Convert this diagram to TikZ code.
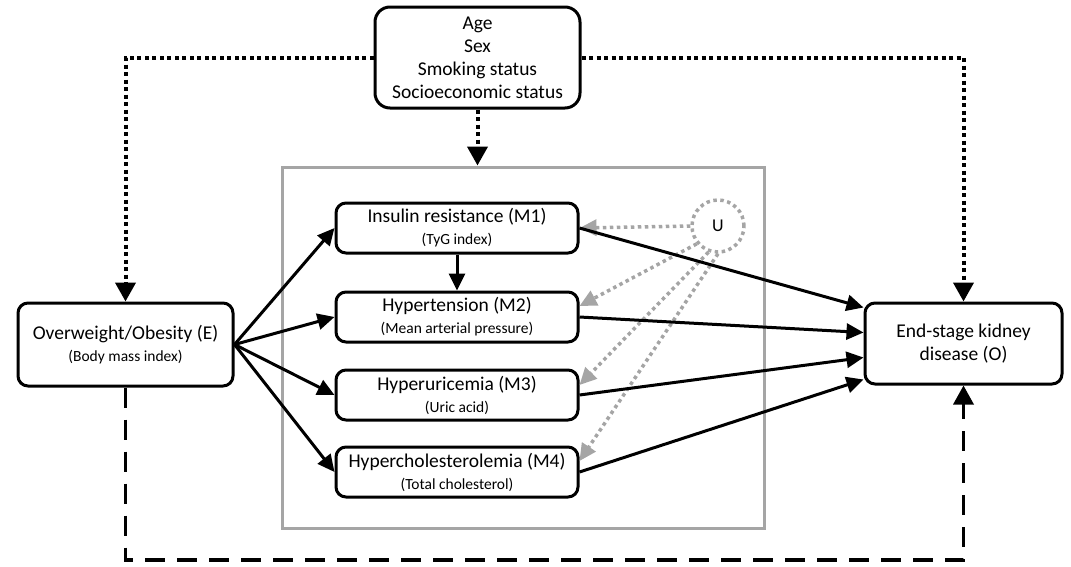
\documentclass[tikz,border=0pt]{standalone}
\usepackage{fontspec}
\setmainfont{Carlito}
\usetikzlibrary{arrows.meta,calc}
\definecolor{lgray}{RGB}{165,165,165}
\newcommand\mtitle[2]{#1\\[-1pt]{\fontsize{15.5}{17}\selectfont #2}}
\begin{document}
\begin{tikzpicture}[x=1pt,y=-1pt,
  box/.style={draw, line width=3pt, rounded corners=10pt, align=center, inner sep=0pt,
    font=\fontsize{19.5}{23}\selectfont},
  mbox/.style={box, minimum width=242pt, minimum height=50pt},
  graybox/.style={draw=lgray, line width=3pt, minimum width=482pt, minimum height=361pt, inner sep=0pt},
  ucirc/.style={circle, draw=lgray, line width=3.5pt, dash pattern=on 3.5pt off 3.5pt, minimum size=52pt, inner sep=0pt,
    font=\fontsize{18}{20}\selectfont},
  solidarr/.style={line width=3pt, -{Triangle[length=17pt,width=16pt]}},
  dotarr/.style={line width=4pt, dash pattern=on 4pt off 3.5pt, -{Triangle[length=19pt,width=20pt]}},
  grayarr/.style={draw=lgray, line width=3.5pt, dash pattern=on 3.5pt off 3.5pt, -{Triangle[length=17pt,width=16pt]}, lgray},
  dasharr/.style={line width=3.5pt, dash pattern=on 20pt off 12pt, -{Triangle[length=19pt,width=20pt]}}
]
\useasboundingbox (0,0) rectangle (1071,566);
% gray frame
\node[graybox] (G) at (523,347.5) {};
% confounders
\node[box, rounded corners=15pt, minimum width=205pt, minimum height=101pt] (C) at (477.5,57.5)
  {Age\\Sex\\Smoking status\\Socioeconomic status};
% exposure and outcome
\node[box, minimum width=215pt, minimum height=83pt] (E) at (125.5,344.5)
  {\mtitle{Overweight/Obesity (E)}{(Body mass index)}};
\node[box, minimum width=197pt, minimum height=81pt] (O) at (963.5,343.5)
  {End-stage kidney\\disease (O)};
% mediators
\node[mbox] (M1) at (457,228) {\mtitle{Insulin resistance (M1)}{(TyG index)}};
\node[mbox] (M2) at (457,317) {\mtitle{Hypertension (M2)}{(Mean arterial pressure)}};
\node[mbox] (M3) at (457,395) {\mtitle{Hyperuricemia (M3)}{(Uric acid)}};
\node[mbox] (M4) at (457,472) {\mtitle{Hypercholesterolemia (M4)}{(Total cholesterol)}};
% unmeasured confounder
\node[ucirc] (U) at (718,226) {U};
% confounder paths
\draw[dotarr] (C.west) -| (E.north);
\draw[dotarr] (C.east) -| (O.north);
\draw[dotarr] (C.south) -- (C.south |- G.north);
% U paths
\draw[grayarr] (U.180) -- (M1.east);
\draw[grayarr] (U.220) -- ([yshift=11pt]M2.east);
\draw[grayarr] (U.250) -- ([yshift=10pt]M3.east);
\draw[grayarr] (U.270) -- ([yshift=11pt]M4.east);
% exposure to mediators
\draw[solidarr] (E.east) -- (M1.west);
\draw[solidarr] (E.east) -- (M2.west);
\draw[solidarr] (E.east) -- (M3.west);
\draw[solidarr] (E.east) -- (M4.west);
\draw[solidarr] (M1.south) -- (M2.north);
% mediators to outcome
\draw[solidarr] (M1.east) -- ([yshift=36pt]O.west);
\draw[solidarr] (M2.east) -- ([yshift=11pt]O.west);
\draw[solidarr] (M3.east) -- ([yshift=-14pt]O.west);
\draw[solidarr] (M4.east) -- ([yshift=-36pt]O.west);
% direct effect
\coordinate (bl) at (125.5,560);
\draw[dasharr] (E.south) -- (bl) -| (O.south);
\end{tikzpicture}
\end{document}
